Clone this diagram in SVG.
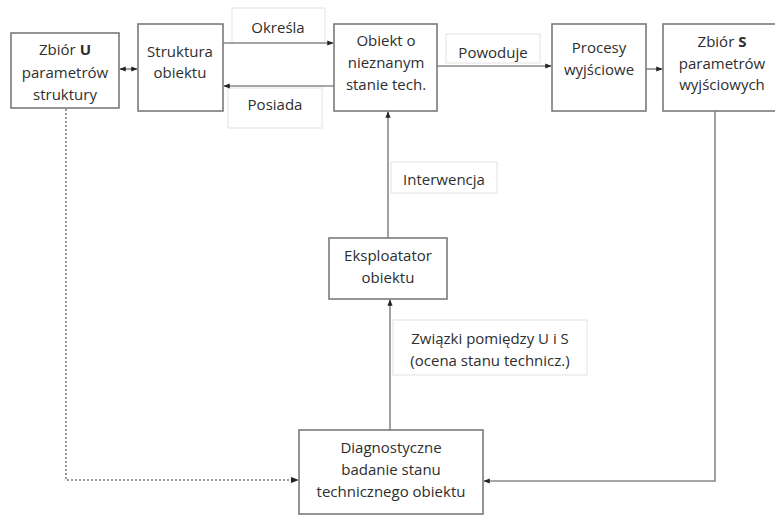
<svg xmlns="http://www.w3.org/2000/svg" width="775" height="517" viewBox="0 0 775 517">
  <style>
    .node { fill: #ffffff; stroke: #7a7a7a; stroke-width: 1.6; }
    .lbl { fill: #ffffff; stroke: #e2e2e2; stroke-width: 1; }
    text { font-family: "Open Sans", "Liberation Sans", sans-serif; font-size: 15px; fill: #2e2e2e; text-anchor: middle; }
    .edge { fill: none; stroke: #8a8a8a; stroke-width: 1.6; }
    .dot { fill: none; stroke: #9a9a9a; stroke-width: 2; stroke-dasharray: 2 2; }
  </style>
  <defs>
    <marker id="arr" viewBox="0 0 10 10" refX="9" refY="5" markerWidth="4" markerHeight="4" orient="auto-start-reverse" markerUnits="strokeWidth">
      <path d="M0,1 L10,5 L0,9 z" fill="#222"/>
    </marker>
  </defs>

  <rect width="775" height="517" fill="#ffffff"/>

  <!-- connector labels (white boxes with faint borders) -->
  <g id="labels">
    <rect class="lbl" x="232" y="8" width="93" height="35"/>
    <rect class="lbl" x="228" y="88" width="94" height="40"/>
    <rect class="lbl" x="446" y="34" width="94" height="29"/>
    <rect class="lbl" x="391" y="162" width="106" height="31"/>
    <rect class="lbl" x="393" y="320" width="194" height="55"/>
    <text x="278" y="33">Określa</text>
    <text x="275" y="110">Posiada</text>
    <text x="493" y="58">Powoduje</text>
    <text x="444" y="185">Interwencja</text>
    <text x="490" y="344">Związki pomiędzy U i S</text>
    <text x="490" y="366">(ocena stanu technicz.)</text>
  </g>

  <g id="connectors">
    <line class="edge" x1="223" y1="43" x2="333" y2="43" marker-end="url(#arr)"/>
    <line class="edge" x1="334" y1="86" x2="224" y2="86" marker-end="url(#arr)"/>
    <line class="edge" x1="120" y1="69" x2="137" y2="69" marker-start="url(#arr)" marker-end="url(#arr)"/>
    <line class="edge" x1="437" y1="66" x2="551" y2="66" marker-end="url(#arr)"/>
    <line class="edge" x1="646" y1="69" x2="662" y2="69" marker-end="url(#arr)"/>
    <line class="edge" x1="388" y1="238" x2="388" y2="112" marker-end="url(#arr)"/>
    <line class="edge" x1="390" y1="430" x2="390" y2="300" marker-end="url(#arr)"/>
    <polyline class="edge" points="715,111 715,481 484,481" marker-end="url(#arr)"/>
    <polyline class="dot" points="66,109 66,480 298,480" marker-end="url(#arr)"/>
  </g>

  <g id="zbior-u">
    <rect class="node" x="11" y="33" width="108" height="75"/>
    <text x="65" y="55">Zbiór <tspan font-weight="bold">U</tspan></text>
    <text x="65" y="78">parametrów</text>
    <text x="65" y="100">struktury</text>
  </g>

  <g id="struktura">
    <rect class="node" x="138" y="24" width="85" height="87"/>
    <text x="180" y="57">Struktura</text>
    <text x="180" y="78">obiektu</text>
  </g>

  <g id="obiekt">
    <rect class="node" x="334" y="24" width="103" height="87"/>
    <text x="386" y="46">Obiekt o</text>
    <text x="386" y="68">nieznanym</text>
    <text x="386" y="90">stanie tech.</text>
  </g>

  <g id="procesy">
    <rect class="node" x="552" y="24" width="94" height="87"/>
    <text x="599" y="53">Procesy</text>
    <text x="599" y="75">wyjściowe</text>
  </g>

  <g id="zbior-s">
    <rect class="node" x="663" y="24" width="120" height="87"/>
    <text x="722" y="47">Zbiór <tspan font-weight="bold">S</tspan></text>
    <text x="722" y="69">parametrów</text>
    <text x="722" y="90">wyjściowych</text>
  </g>

  <g id="eksploatator">
    <rect class="node" x="329" y="238" width="118" height="61"/>
    <text x="388" y="261">Eksploatator</text>
    <text x="388" y="283">obiektu</text>
  </g>

  <g id="diagnostyczne">
    <rect class="node" x="299" y="430" width="184" height="84"/>
    <text x="391" y="453">Diagnostyczne</text>
    <text x="391" y="475">badanie stanu</text>
    <text x="391" y="497">technicznego obiektu</text>
  </g>
</svg>
